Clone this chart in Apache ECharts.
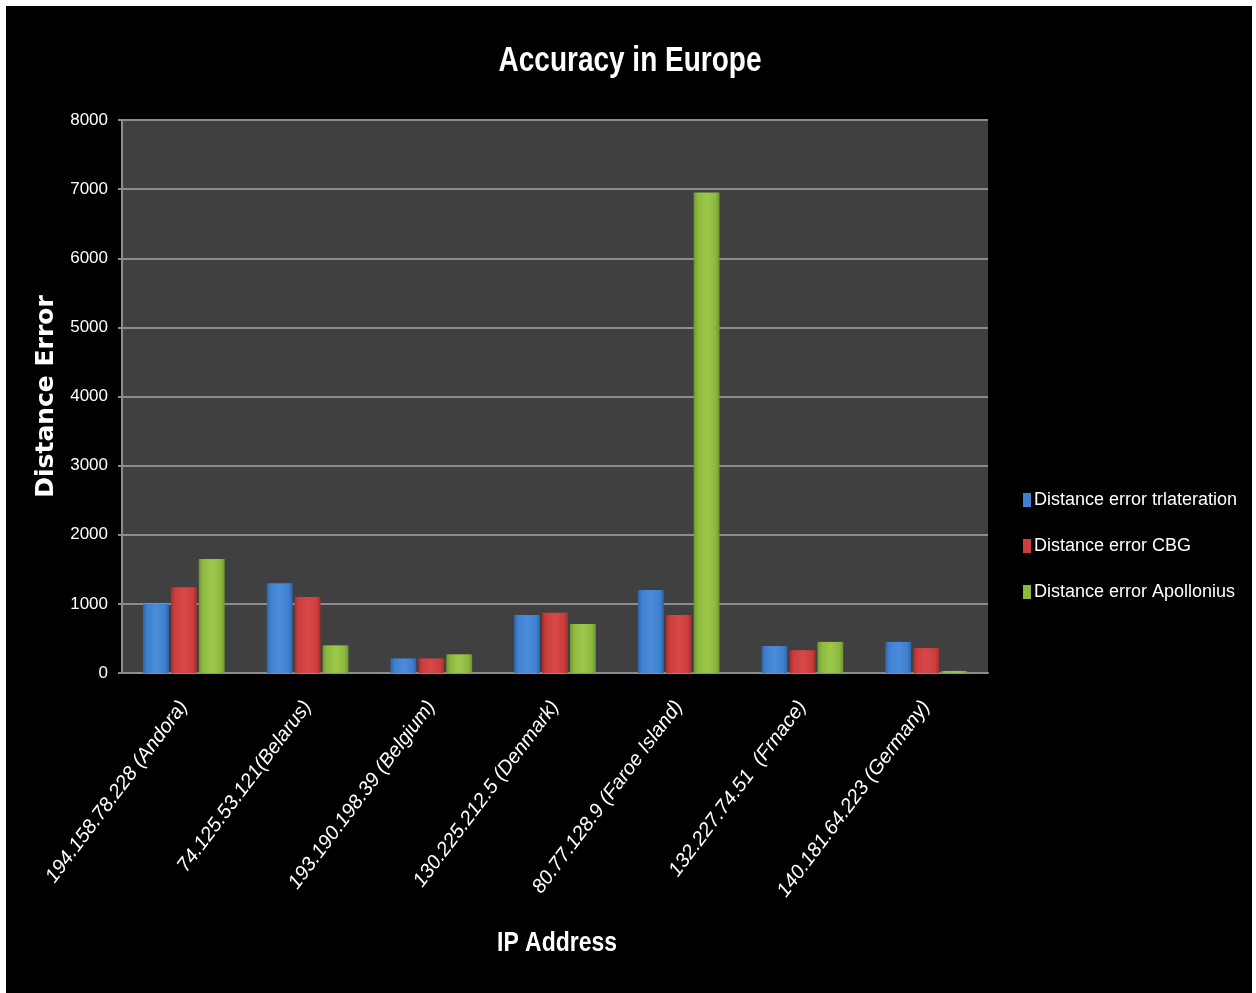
<!DOCTYPE html>
<html>
<head>
<meta charset="utf-8">
<script src="https://cdn.jsdelivr.net/npm/echarts@6/dist/echarts.min.js"></script>
<style>
html,body{margin:0;padding:0;background:#fff;width:1256px;height:993px;overflow:hidden;}
#c{position:absolute;left:6px;top:6px;width:1246px;height:987px;background:#000;}
</style>
</head>
<body>
<div id="c"></div>
<script>
const categories = [
  "194.158.78.228 (Andora)",
  "74.125.53.121(Belarus)",
  "193.190.198.39 (Belgium)",
  "130.225.212.5 (Denmark)",
  "80.77.128.9 (Faroe Island)",
  "132.227.74.51  (Frnace)",
  "140.181.64.223 (Germany)"
];
const seriesNames = ["Distance error trlateration", "Distance error CBG", "Distance error Apollonius"];
const trilateration = [1000, 1300, 210, 840, 1200, 390, 450];
const cbg = [1240, 1100, 210, 870, 840, 330, 360];
const apollonius = [1650, 400, 270, 710, 6950, 450, 30];
const yTicks = [0, 1000, 2000, 3000, 4000, 5000, 6000, 7000, 8000];

const font = '"Liberation Sans", Arial, sans-serif';

function grad(light, mid, dark) {
  return new echarts.graphic.LinearGradient(0, 0, 1, 0, [
    {offset: 0, color: dark},
    {offset: 0.15, color: mid},
    {offset: 0.5, color: light},
    {offset: 0.85, color: mid},
    {offset: 1, color: dark}
  ]);
}
const colors = [
  grad('#4a8ddb', '#3f80cf', '#2f65a8'),
  grad('#d84848', '#cc3d3d', '#a52e2e'),
  grad('#9cc94a', '#8db840', '#6f9430')
];
const legendColors = ['#3f80cf', '#cc3d3d', '#8db840'];
const data = [trilateration, cbg, apollonius];

const chart = echarts.init(document.getElementById('c'), null, {renderer: 'canvas'});
chart.setOption({
  backgroundColor: '#000',
  animation: false,
  graphic: [
    {
      type: 'text', x: 624, y: 55, scaleX: 0.8, scaleY: 1,
      style: {text: 'Accuracy in Europe', fill: '#fff', font: 'bold 35px "Liberation Sans", Arial, sans-serif',
        textAlign: 'center', textVerticalAlign: 'middle'}
    },
    {
      type: 'text', x: 551, y: 937, scaleX: 0.82, scaleY: 1,
      style: {text: 'IP Address', fill: '#fff', font: 'bold 28px "Liberation Sans", Arial, sans-serif',
        textAlign: 'center', textVerticalAlign: 'middle'}
    }
  ],
  legend: {
    orient: 'vertical',
    left: 1012, top: 480,
    itemWidth: 8, itemHeight: 14, itemGap: 28,
    icon: 'rect',
    textStyle: {color: '#fff', fontFamily: font, fontSize: 18, padding: [0, 0, 0, -2]},
    data: seriesNames.map((n, i) => ({name: n, itemStyle: {color: legendColors[i]}}))
  },
  grid: {
    left: 116, top: 114, right: 264, bottom: 320,
    show: true, backgroundColor: '#404040', borderWidth: 0
  },
  xAxis: {
    type: 'category',
    data: categories,
    axisLine: {lineStyle: {color: '#8c8c8c', width: 2}},
    axisTick: {show: false},
    axisLabel: {
      color: '#fff', fontFamily: font, fontStyle: 'italic', fontSize: 20,
      rotate: 53, margin: 30, interval: 0
    }
  },
  yAxis: {
    type: 'value',
    min: 0, max: 8000, interval: 1000,
    name: 'Distance Error',
    nameLocation: 'middle',
    nameGap: 44,
    nameTextStyle: {color: '#fff', fontFamily: '"DejaVu Sans", sans-serif', fontWeight: 'bold', fontSize: 25},
    axisLine: {show: true, lineStyle: {color: '#8c8c8c', width: 2}},
    axisTick: {show: true, length: 4, lineStyle: {color: '#8c8c8c', width: 2}},
    splitLine: {lineStyle: {color: '#8c8c8c', width: 2}},
    axisLabel: {
      color: '#fff', fontFamily: font, fontSize: 17, margin: 14,
      formatter: v => yTicks.includes(v) ? String(v) : ''
    }
  },
  series: seriesNames.map((n, i) => ({
    name: n,
    type: 'bar',
    data: data[i],
    barGap: '8%',
    barCategoryGap: '34%',
    itemStyle: {color: colors[i]}
  }))
});
</script>
</body>
</html>
